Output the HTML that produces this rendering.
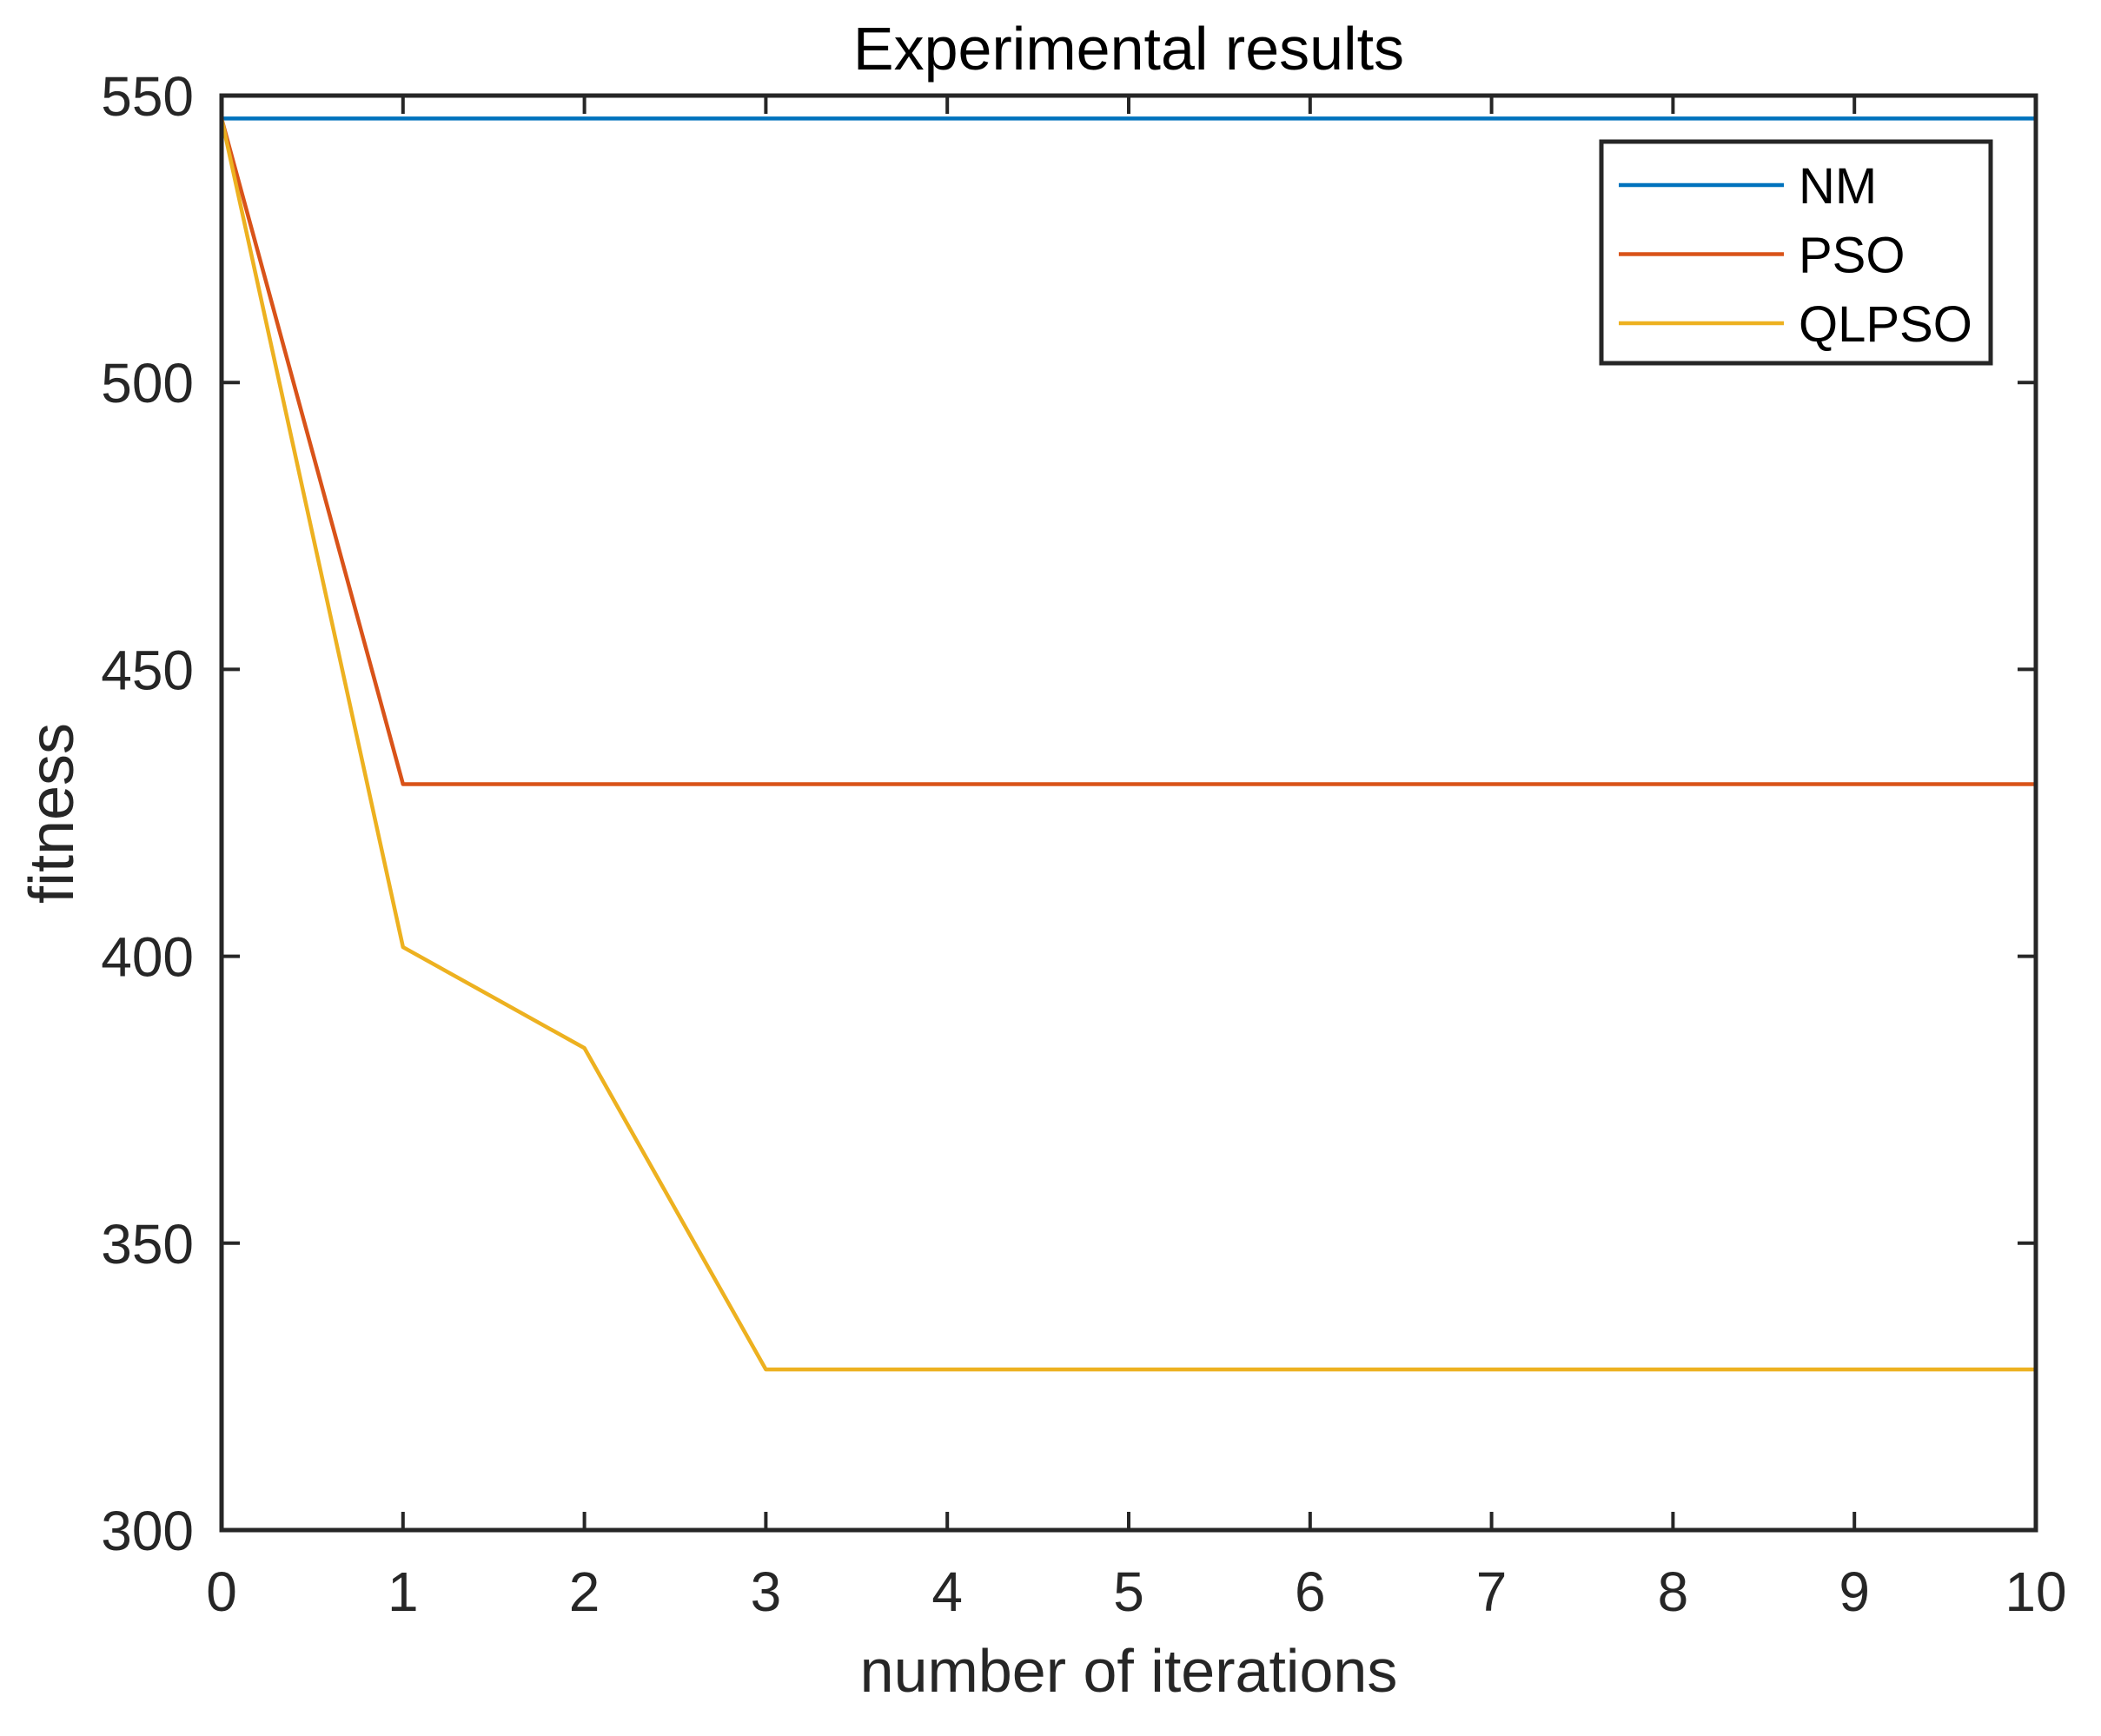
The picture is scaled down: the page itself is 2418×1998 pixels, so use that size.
<!DOCTYPE html>
<html><head><meta charset="utf-8"><style>
html,body{margin:0;padding:0;background:#fff;}
svg{display:block;font-family:"Liberation Sans",Arial,sans-serif;}
</style></head><body>
<svg id="chart" width="2418" height="1998" viewBox="0 0 2418 1998" xmlns="http://www.w3.org/2000/svg">
<rect x="0" y="0" width="2418" height="1998" fill="#fff"/>
<text x="1299" y="80" font-size="70" text-anchor="middle" fill="#000">Experimental results</text>
<text x="1299" y="1947" font-size="70" text-anchor="middle" fill="#262626">number of iterations</text>
<text transform="translate(84,936) rotate(-90)" font-size="72" text-anchor="middle" fill="#262626">fitness</text>
<g id="ticks"></g>
<g id="series"></g>
<rect x="255" y="110" width="2088" height="1651" fill="none" stroke="#262626" stroke-width="5"/>
<g id="legend">
<rect x="1843" y="163" width="448" height="255" fill="#fff" stroke="#262626" stroke-width="5"/>
</g>
</svg>
<script>
const xTicks = [0,1,2,3,4,5,6,7,8,9,10];
const yTicks = [300,350,400,450,500,550];
const iterations = [0,1,2,3,4,5,6,7,8,9,10];
const nmValues = [546,546,546,546,546,546,546,546,546,546,546];
const psoValues = [546,430,430,430,430,430,430,430,430,430,430];
const qlpsoValues = [546,401.6,384,328,328,328,328,328,328,328,328];
const seriesNames = ["NM","PSO","QLPSO"];
const seriesColors = ["#0072BD","#D95319","#EDB120"];

const L=255,R=2343,T=110,B=1761;
const xMin=0,xMax=10,yMin=300,yMax=550;
const sx=v=>L+(v-xMin)/(xMax-xMin)*(R-L);
const sy=v=>B-(v-yMin)/(yMax-yMin)*(B-T);
const NS="http://www.w3.org/2000/svg";
function mk(tag,attrs){const e=document.createElementNS(NS,tag);for(const k in attrs)e.setAttribute(k,attrs[k]);return e;}

const tg=document.getElementById('ticks');
xTicks.forEach(v=>{
  const x=sx(v);
  const a=mk('line',{x1:x,x2:x,y1:B,y2:B-21,stroke:'#262626','stroke-width':4});
  
  
  tg.appendChild(a);
  const b=mk('line',{x1:x,x2:x,y1:T,y2:T+21,stroke:'#262626','stroke-width':4});
  
  
  tg.appendChild(b);
  const t=mk('text',{x:x,y:1854,'font-size':64,'text-anchor':'middle',fill:'#262626'});
  t.textContent=v;
  
  
  tg.appendChild(t);
});
yTicks.forEach(v=>{
  const y=sy(v);
  const a=mk('line',{x1:L,x2:L+21,y1:y,y2:y,stroke:'#262626','stroke-width':4});
  
  
  tg.appendChild(a);
  const b=mk('line',{x1:R,x2:R-21,y1:y,y2:y,stroke:'#262626','stroke-width':4});
  
  
  tg.appendChild(b);
  const t=mk('text',{x:223,y:y+23,'font-size':64,'text-anchor':'end',fill:'#262626'});
  t.textContent=v;
  
  
  tg.appendChild(t);
});

const sg=document.getElementById('series');
[nmValues,psoValues,qlpsoValues].forEach((vals,i)=>{
  const pts=vals.map((v,j)=>sx(iterations[j])+','+sy(v)).join(' ');
  const p=mk('polyline',{points:pts,fill:'none',stroke:seriesColors[i],'stroke-width':4.5,'stroke-linejoin':'round'});
  
  
  sg.appendChild(p);
});

const lg=document.getElementById('legend');
seriesNames.forEach((n,i)=>{
  const y=213+i*79.5;
  const l=mk('line',{x1:1863,x2:2053,y1:y,y2:y,stroke:seriesColors[i],'stroke-width':4.5});
  
  
  lg.appendChild(l);
  const t=mk('text',{x:2070,y:y+21,'font-size':58,fill:'#000'});
  t.textContent=n;
  
  
  lg.appendChild(t);
});
</script>
</body></html>
